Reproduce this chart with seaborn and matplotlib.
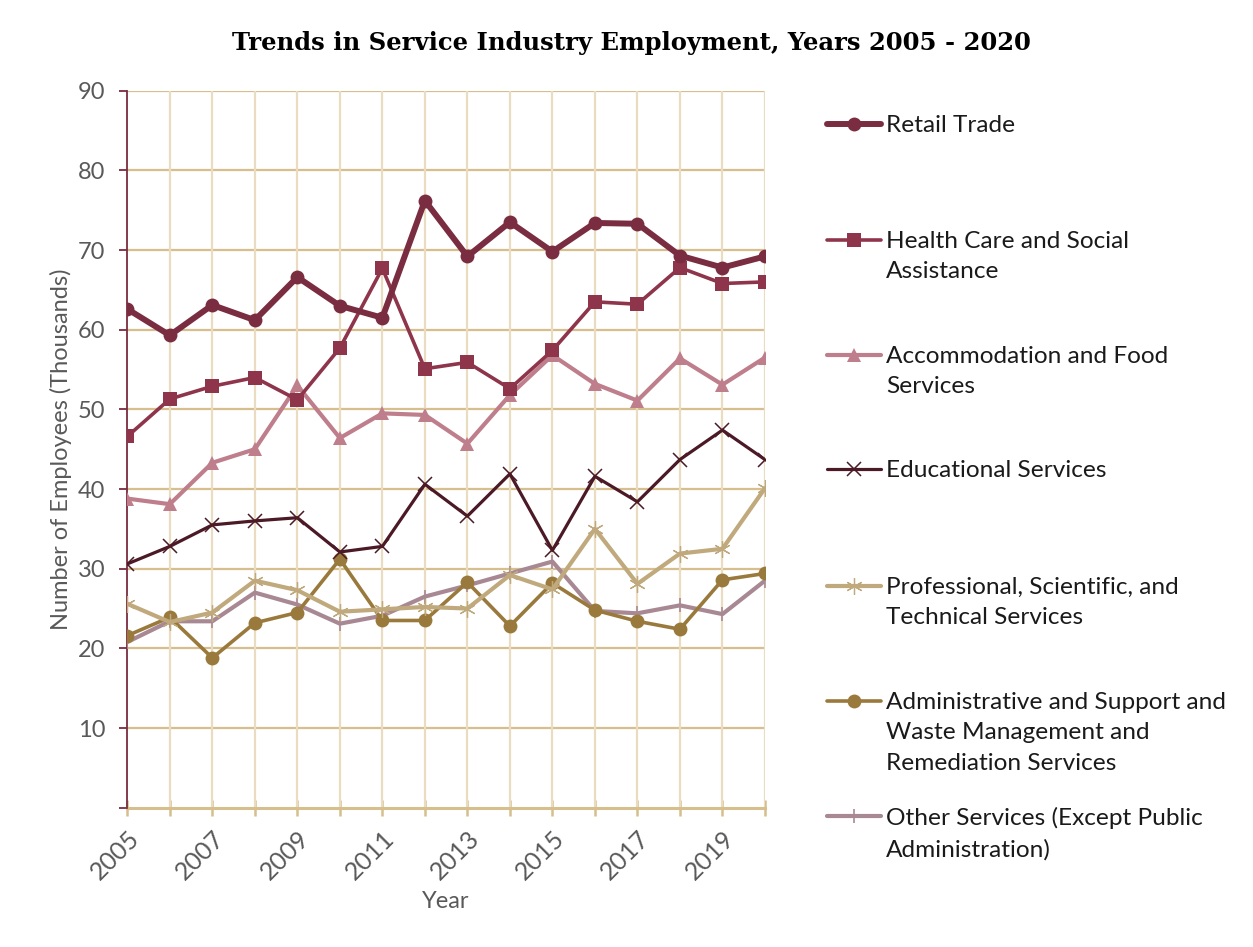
import matplotlib
matplotlib.use("Agg")
import matplotlib.pyplot as plt
from matplotlib.lines import Line2D
import seaborn as sns
import pandas as pd

years = list(range(2005, 2021))

retail_trade = [62.6, 59.3, 63.1, 61.2, 66.6, 63.0, 61.5, 76.2,
                69.2, 73.5, 69.8, 73.4, 73.3, 69.3, 67.8, 69.2]
health_care = [46.6, 51.3, 52.9, 54.0, 51.2, 57.7, 67.7, 55.1,
               55.9, 52.6, 57.4, 63.5, 63.2, 67.8, 65.8, 66.0]
accommodation_food = [38.8, 38.1, 43.3, 45.0, 53.0, 46.4, 49.5, 49.3,
                      45.7, 51.8, 56.8, 53.2, 51.1, 56.4, 53.1, 56.5]
educational = [30.6, 32.8, 35.5, 36.0, 36.4, 32.1, 32.8, 40.6,
               36.6, 41.9, 32.3, 41.6, 38.4, 43.7, 47.4, 43.7]
professional = [25.6, 23.3, 24.5, 28.5, 27.3, 24.6, 24.9, 25.2,
                25.0, 29.2, 27.4, 35.0, 28.1, 31.9, 32.5, 40.1]
administrative = [21.6, 23.9, 18.8, 23.2, 24.5, 31.2, 23.5, 23.5,
                  28.3, 22.8, 28.2, 24.8, 23.4, 22.4, 28.6, 29.4]
other_services = [20.8, 23.4, 23.4, 27.0, 25.5, 23.1, 24.1, 26.5,
                  27.9, 29.4, 30.9, 24.7, 24.4, 25.4, 24.3, 28.5]

series_names = [
    "Retail Trade",
    "Health Care and Social\nAssistance",
    "Accommodation and Food\nServices",
    "Educational Services",
    "Professional, Scientific, and\nTechnical Services",
    "Administrative and Support and\nWaste Management and\nRemediation Services",
    "Other Services (Except Public\nAdministration)",
]
series_values = [retail_trade, health_care, accommodation_food, educational,
                 professional, administrative, other_services]

y_ticks = [0, 10, 20, 30, 40, 50, 60, 70, 80, 90]
y_tick_labels = ["", "10", "20", "30", "40", "50", "60", "70", "80", "90"]
x_tick_labels = [2005, 2007, 2009, 2011, 2013, 2015, 2017, 2019]

# line style per series: colour, marker, marker size, line width
styles = [
    dict(color="#7A2C40", marker="o", ms=10, lw=4.3, mew=0),
    dict(color="#8E354C", marker="s", ms=9.5, lw=2.6, mew=0),
    dict(color="#BF7E8B", marker="^", ms=10.5, lw=3.0, mew=0),
    dict(color="#4B1A26", marker="x", ms=9.5, lw=2.3, mew=1.1),
    dict(color="#C0A97C", marker="x", ms=12, lw=3.0, mew=0.9, star=True),
    dict(color="#9A7A3C", marker="o", ms=10, lw=2.6, mew=0),
    dict(color="#A88993", marker="|", ms=10, lw=3.0, mew=1.2),
]

sns.set_theme(style="white")
plt.rcParams["font.family"] = ["Lato", "DejaVu Sans"]

fig = plt.figure(figsize=(12.53, 9.47), dpi=100)
ax = fig.add_axes([0.1016, 0.1471, 0.5089, 0.7571])

df = pd.DataFrame({"Year": years})
for name, vals in zip(series_names, series_values):
    df[name] = vals

# draw series in reverse so the first series sits on top
for name, st in reversed(list(zip(series_names, styles))):
    marker = (6, 2, 0) if st.get("star") else st["marker"]
    sns.lineplot(data=df, x="Year", y=name, ax=ax, color=st["color"],
                 linewidth=st["lw"], marker=marker, markersize=st["ms"],
                 markeredgewidth=st["mew"], markeredgecolor=st["color"],
                 markerfacecolor=st["color"], zorder=3)

ax.set_xlim(2005, 2020)
ax.set_ylim(0, 90)
ax.set_yticks(y_ticks)
ax.set_yticklabels(y_tick_labels)
ax.set_xticks(x_tick_labels)
ax.set_xticklabels([str(y) for y in x_tick_labels], rotation=45,
                   ha="right", rotation_mode="anchor")
ax.set_xticks(years, minor=True)

# grid: tan horizontals, lighter verticals at every year
for yv in y_ticks[1:]:
    ax.axhline(yv, color="#D6BF8C", lw=1.6, zorder=1)
for xv in years[1:]:
    ax.axvline(xv, color="#E9DCC0", lw=1.6, zorder=1)

for side in ["top", "right"]:
    ax.spines[side].set_visible(False)
ax.spines["left"].set_color("#7A2C40")
ax.spines["left"].set_linewidth(1.3)
ax.spines["bottom"].set_color("#D6BF8C")
ax.spines["bottom"].set_linewidth(2.2)
ax.spines["bottom"].set_zorder(2)

ax.tick_params(axis="y", which="major", direction="out", length=6,
               width=1.3, color="#7A2C40", labelsize=17, labelcolor="#595959",
               pad=10, left=True)
ax.tick_params(axis="x", which="both", direction="inout", length=11,
               width=1.8, color="#D6BF8C", labelsize=18, labelcolor="#595959",
               pad=8, bottom=True)

ax.set_xlabel("Year", fontsize=17, color="#595959", labelpad=5)
ax.set_ylabel("Number of Employees (Thousands)", fontsize=17,
              color="#595959", labelpad=4)

fig.text(0.504, 0.955, "Trends in Service Industry Employment, Years 2005 - 2020",
         ha="center", va="center", fontsize=17.5, fontweight="bold",
         family=["DejaVu Serif"], color="#000000")

# legend entries stacked down the right side
H, W = 947.0, 1253.0
entry_y = [124, 240, 355, 469, 586, 701, 816]
for name, st, py in zip(series_names, styles, entry_y):
    yf = 1 - py / H
    marker = (6, 2, 0) if st.get("star") else st["marker"]
    fig.add_artist(Line2D([827 / W, 881 / W], [yf, yf], color=st["color"],
                          lw=st["lw"], transform=fig.transFigure))
    fig.add_artist(Line2D([854 / W], [yf], color=st["color"], marker=marker,
                          markersize=st["ms"], markeredgewidth=st["mew"],
                          markeredgecolor=st["color"], markerfacecolor=st["color"],
                          lw=0, transform=fig.transFigure))
    fig.text(886 / W, yf + 9 / H, name, ha="left", va="top", fontsize=17.6,
             color="#1A1A1A", linespacing=1.55)

fig.savefig("out.png", dpi=100)
